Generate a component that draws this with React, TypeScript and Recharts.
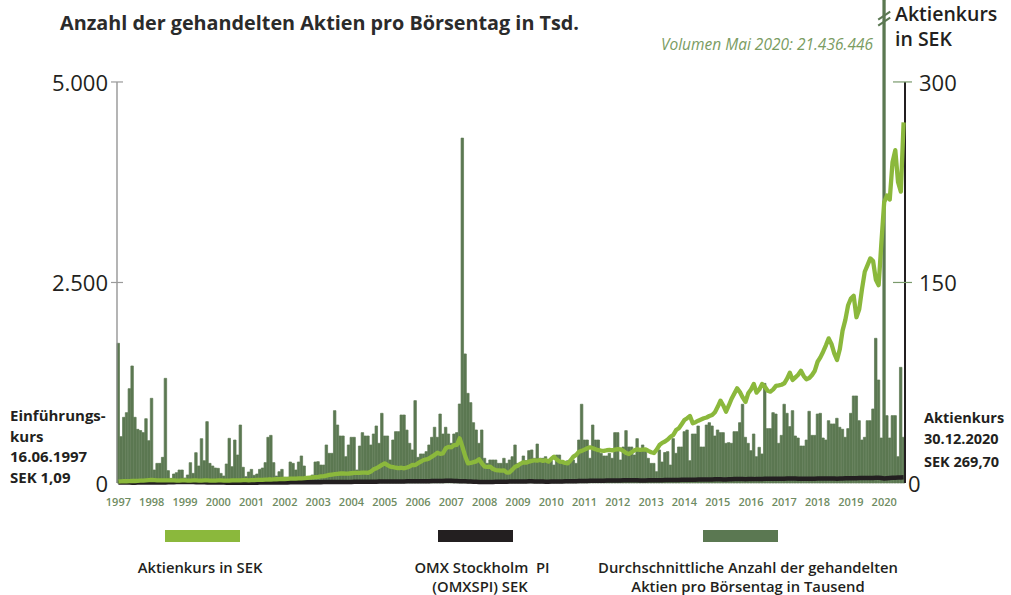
import { ComposedChart, Bar, Line, XAxis, YAxis, ReferenceLine, ReferenceDot } from "recharts";

const FONT = "'Open Sans', sans-serif";
const DARK = "#5b7852";
const LIGHT = "#8bb83c";
const BLACK = "#231f20";
const YEAR_COLOR = "#6f8c62";

// monthly, June 1997 .. Dec 2020
const YEARS = [
  "1997", "1998", "1999", "2000", "2001", "2002", "2003", "2004", "2005", "2006", "2007", "2008",
  "2009", "2010", "2011", "2012", "2013", "2014", "2015", "2016", "2017", "2018", "2019", "2020",
];

// average traded shares per day, thousands
const VOLUME = [
  1742, 578, 819, 877, 1176, 1459, 819, 669, 654, 628, 802, 528,
  1056, 162, 245, 245, 320, 1305, 154, 58, 112, 129, 162, 162,
  62, 100, 254, 120, 378, 212, 553, 278, 765, 245, 212, 187,
  183, 120, 87, 237, 557, 204, 536, 349, 723, 196, 79, 137,
  170, 96, 112, 170, 187, 254, 570, 594, 254, 87, 141, 170,
  71, 71, 262, 245, 162, 262, 337, 212, 79, 60, 100, 262,
  266, 224, 224, 474, 370, 370, 902, 723, 586, 586, 328, 474,
  570, 570, 162, 461, 628, 586, 586, 474, 611, 711, 495, 869,
  586, 586, 287, 536, 640, 640, 848, 848, 660, 495, 412, 1027,
  320, 362, 362, 391, 474, 570, 695, 570, 860, 611, 695, 611,
  495, 611, 628, 985, 4300, 1609, 1118, 1002, 752, 661, 495, 661,
  308, 245, 287, 287, 287, 245, 245, 308, 245, 287, 328, 474,
  245, 245, 337, 278, 403, 412, 308, 486, 308, 308, 328, 287,
  278, 224, 349, 349, 245, 245, 278, 287, 287, 245, 536, 982,
  536, 536, 308, 723, 536, 536, 370, 337, 337, 370, 308, 628,
  628, 287, 449, 653, 449, 449, 349, 553, 412, 474, 412, 308,
  245, 245, 141, 412, 262, 380, 391, 224, 553, 370, 449, 449,
  640, 661, 278, 611, 611, 711, 449, 449, 723, 752, 711, 586,
  661, 628, 628, 495, 503, 495, 640, 640, 752, 982, 570, 495,
  403, 611, 328, 445, 362, 1242, 678, 678, 877, 860, 495, 594,
  982, 869, 703, 902, 586, 561, 461, 461, 536, 894, 594, 594,
  860, 869, 561, 536, 777, 736, 736, 807, 695, 670, 570, 678,
  869, 1085, 1085, 777, 536, 570, 777, 777, 923, 1804, 1284, 561,
  21436, 840, 561, 840, 840, 328, 1442, 570,
];

// share price, SEK
const PRICE = [
  1.1, 1.2, 1.3, 1.3, 1.4, 1.5, 1.5, 1.6, 1.7, 1.8, 2.0, 2.2,
  2.3, 2.2, 2.0, 1.9, 1.9, 2.0, 2.0, 1.9, 1.9, 1.8, 1.8, 1.9,
  1.9, 1.8, 1.8, 1.9, 1.9, 1.8, 1.8, 1.9, 1.9, 1.8, 1.8, 1.8,
  1.9, 1.9, 1.8, 1.8, 1.8, 1.9, 1.9, 2.0, 2.0, 2.1, 2.1, 2.0,
  2.1, 2.2, 2.3, 2.4, 2.4, 2.5, 2.6, 2.6, 2.7, 2.8, 2.9, 3.0,
  3.0, 3.1, 3.2, 3.3, 3.3, 3.4, 3.5, 3.6, 3.8, 4.0, 4.2, 4.4,
  4.6, 4.9, 5.2, 5.6, 6.0, 6.3, 6.6, 6.9, 7.1, 7.2, 7.0, 7.1,
  7.3, 7.5, 7.6, 7.6, 7.7, 7.8, 7.6, 8.5, 10.2, 11.0, 12.3, 13.6,
  14.7, 13.4, 12.2, 11.8, 11.4, 11.2, 11.4, 11.0, 11.6, 12.4, 13.5, 13.4,
  14.8, 16.0, 17.2, 17.6, 18.4, 19.7, 21.0, 22.7, 21.8, 22.2, 26.0, 27.0,
  26.7, 28.4, 28.6, 33.4, 27.0, 20.0, 14.7, 15.0, 15.6, 16.2, 17.7, 14.7,
  12.2, 12.0, 12.2, 10.5, 9.7, 9.5, 9.2, 9.4, 7.7, 8.0, 10.0, 12.2,
  13.0, 14.5, 15.5, 15.2, 16.0, 16.5, 17.0, 16.8, 17.2, 16.5, 17.0, 16.0,
  18.0, 19.7, 17.5, 16.0, 15.8, 15.0, 14.7, 17.0, 19.7, 21.0, 23.4, 24.0,
  25.0, 26.0, 26.7, 26.0, 25.2, 24.5, 24.2, 24.0, 24.5, 24.7, 24.4, 25.0,
  25.4, 25.2, 24.0, 22.5, 21.7, 23.0, 24.5, 25.2, 24.8, 25.0, 25.2, 24.0,
  23.0, 22.4, 25.0, 28.4, 30.0, 31.0, 32.5, 34.6, 36.0, 39.6, 41.0, 44.0,
  47.1, 48.5, 50.1, 44.7, 45.5, 46.6, 47.5, 48.4, 49.0, 50.1, 50.9, 53.0,
  57.0, 61.6, 58.0, 53.3, 58.0, 63.0, 67.0, 70.8, 68.0, 64.0, 60.6, 67.1,
  70.0, 74.1, 67.6, 70.0, 74.1, 72.0, 69.0, 68.3, 70.0, 72.6, 73.0, 73.5,
  74.6, 78.0, 82.5, 77.0, 79.0, 81.0, 84.0, 80.0, 77.6, 78.5, 80.8, 84.0,
  90.7, 94.0, 98.2, 103.0, 108.2, 104.0, 97.0, 92.0, 100.0, 114.0, 122.0, 133.0,
  138.0, 140.0, 124.0, 130.0, 145.0, 158.0, 163.0, 168.0, 166.0, 152.0, 148.0, 180.0,
  210.0, 215.0, 212.0, 240.0, 249.0, 225.0, 218.0, 269.7,
];

// OMX Stockholm PI, rebased to the SEK axis
const OMX = [
  0.3, 0.3, 0.4, 0.3, 0.3, 0.2, 0.2, 0.3, 0.3, 0.4, 0.4, 0.4,
  0.4, 0.3, 0.3, 0.3, 0.4, 0.4, 0.5, 0.5, 0.6, 0.7, 0.7, 0.8,
  0.8, 0.7, 0.7, 0.7, 0.6, 0.6, 0.5, 0.5, 0.4, 0.4, 0.4, 0.4,
  0.3, 0.3, 0.3, 0.2, 0.2, 0.2, 0.1, 0.1, 0.1, 0.1, 0.2, 0.2,
  0.2, 0.2, 0.2, 0.3, 0.3, 0.3, 0.3, 0.3, 0.4, 0.4, 0.4, 0.4,
  0.4, 0.4, 0.5, 0.5, 0.5, 0.5, 0.5, 0.5, 0.6, 0.6, 0.6, 0.6,
  0.6, 0.6, 0.7, 0.7, 0.7, 0.7, 0.7, 0.8, 0.8, 0.8, 0.8, 0.8,
  0.8, 0.9, 0.9, 0.9, 0.9, 0.9, 1.0, 1.0, 1.0, 1.0, 1.1, 1.1,
  1.1, 1.1, 1.1, 1.2, 1.2, 1.2, 1.2, 1.2, 1.3, 1.3, 1.3, 1.3,
  1.3, 1.4, 1.4, 1.4, 1.4, 1.5, 1.5, 1.5, 1.5, 1.5, 1.6, 1.6,
  1.6, 1.5, 1.5, 1.4, 1.4, 1.3, 1.2, 1.1, 1.0, 0.9, 0.8, 0.7,
  0.7, 0.7, 0.8, 0.8, 0.9, 0.9, 1.0, 1.0, 1.0, 1.1, 1.1, 1.1,
  1.2, 1.2, 1.2, 1.2, 1.3, 1.3, 1.2, 1.1, 1.1, 1.1, 1.0, 1.0,
  1.1, 1.1, 1.2, 1.2, 1.2, 1.3, 1.3, 1.3, 1.4, 1.4, 1.5, 1.5,
  1.5, 1.5, 1.6, 1.6, 1.6, 1.7, 1.7, 1.7, 1.8, 1.8, 1.8, 1.9,
  1.9, 1.9, 2.0, 2.0, 2.0, 2.1, 2.1, 2.0, 1.9, 1.9, 1.9, 2.0,
  2.0, 2.0, 2.1, 2.1, 2.1, 2.2, 2.2, 2.2, 2.3, 2.3, 2.3, 2.4,
  2.4, 2.4, 2.5, 2.5, 2.5, 2.6, 2.6, 2.6, 2.7, 2.7, 2.7, 2.8,
  2.8, 2.8, 2.7, 2.7, 2.8, 2.8, 2.9, 2.9, 2.9, 2.9, 2.8, 2.9,
  2.9, 2.9, 3.0, 3.0, 3.0, 3.1, 3.1, 3.1, 3.1, 3.2, 3.2, 3.2,
  3.2, 3.3, 3.3, 3.3, 3.3, 3.2, 3.2, 3.2, 3.1, 3.1, 3.2, 3.2,
  3.3, 3.3, 3.3, 3.4, 3.4, 3.4, 3.3, 3.2, 3.3, 3.4, 3.5, 3.5,
  3.6, 3.6, 3.6, 3.7, 3.7, 3.7, 3.8, 3.8, 3.8, 3.9, 3.9, 3.8,
  3.4, 3.6, 3.8, 3.9, 4.0, 4.1, 4.2, 4.3,
];

const VOL_TICKS = [0, 2500, 5000];
const PRICE_TICKS = [0, 150, 300];
// plot runs up to the page top, above the 5.000 / 300 gridline
const VOL_TOP = 6022;
const PRICE_TOP = 361.3;
const LAST = VOLUME.length - 1;

const rows = VOLUME.map((v, i) => ({
  i,
  vol: Math.min(v, VOL_TOP),
  price: PRICE[i],
  omx: OMX[i],
}));

const fmtDe = (v: number) => v.toLocaleString("de-DE");

function LeftTick({ x, y, payload }: any) {
  return (
    <g>
      {payload.value !== 0 && <line x1={x - 6} x2={x + 6} y1={y} y2={y} stroke="#9a9a9a" strokeWidth={1.2} />}
      <text x={x - 9} y={y} textAnchor="end" dominantBaseline="central" fontSize={22} fontWeight={500} fill={BLACK} fontFamily={FONT}>
        {fmtDe(payload.value)}
      </text>
    </g>
  );
}

function RightTick({ x, y, payload }: any) {
  const zero = payload.value === 0;
  return (
    <g>
      {!zero && <line x1={x - 12} x2={x + 7} y1={y} y2={y} stroke="#7a9a6c" strokeWidth={1.2} />}
      <text x={zero ? x + 3 : x + 14} y={y} dominantBaseline="central" fontSize={22} fontWeight={500} fill={BLACK} fontFamily={FONT}>
        {payload.value}
      </text>
    </g>
  );
}

function BreakMark({ cx, cy }: any) {
  return (
    <g stroke={DARK} strokeWidth={2}>
      <line x1={cx - 6} y1={cy + 1} x2={cx + 6} y2={cy - 7} />
      <line x1={cx - 6} y1={cy + 7} x2={cx + 6} y2={cy - 1} />
    </g>
  );
}

const label = (x: number, y: number, text: string, extra: any = {}) => (
  <text x={x} y={y} dominantBaseline="central" fontFamily={FONT} fill={BLACK} style={{ whiteSpace: "pre" }} {...extra}>
    {text}
  </text>
);

const legendText = { fontSize: 14.8, fontWeight: 600, textAnchor: "middle" };
const noteText = { fontSize: 15, fontWeight: 700 };

export default function App() {
  return (
    <div style={{ position: "absolute", left: 0, top: 0, width: 1011, height: 595, background: "#fff" }}>
      <ComposedChart
        width={1011}
        height={595}
        data={rows}
        margin={{ top: 0, right: 46, bottom: 82, left: 57 }}
        barCategoryGap={0}
        barGap={0}
      >
        <XAxis
          dataKey="i"
          type="number"
          domain={[-0.5, LAST + 0.5]}
          ticks={YEARS.map((_, k) => k * 12)}
          interval={0}
          tickFormatter={(v: number) => YEARS[Math.round(v / 12)]}
          tick={{ fontSize: 11, fill: YEAR_COLOR, fontWeight: 600, fontFamily: FONT }}
          tickLine={false}
          axisLine={false}
          tickMargin={9}
          height={30}
        />
        <YAxis
          yAxisId="left"
          domain={[0, VOL_TOP]}
          ticks={VOL_TICKS}
          width={60}
          axisLine={false}
          tickLine={false}
          tickSize={0}
          tickMargin={0}
          tick={<LeftTick />}
        />
        <YAxis
          yAxisId="right"
          orientation="right"
          domain={[0, PRICE_TOP]}
          ticks={PRICE_TICKS}
          width={60}
          axisLine={false}
          tickLine={false}
          tickSize={0}
          tickMargin={0}
          tick={<RightTick />}
        />
        <Bar yAxisId="left" dataKey="vol" fill={DARK} stroke={DARK} strokeWidth={0.7} barSize={3.3} isAnimationActive={false} />
        <ReferenceLine
          yAxisId="left"
          segment={[{ x: -0.5, y: 0 }, { x: -0.5, y: 5000 }]}
          stroke="#8d8d8d"
          strokeWidth={1.3}
          ifOverflow="visible"
        />
        <ReferenceLine
          yAxisId="right"
          segment={[{ x: LAST + 0.5, y: 0 }, { x: LAST + 0.5, y: 300 }]}
          stroke={BLACK}
          strokeWidth={2}
          ifOverflow="visible"
        />
        <Line yAxisId="right" dataKey="omx" stroke={BLACK} strokeWidth={4.5} dot={false} isAnimationActive={false} />
        <Line yAxisId="right" dataKey="price" stroke={LIGHT} strokeWidth={4.3} dot={false} strokeLinejoin="round" isAnimationActive={false} />
        <ReferenceDot yAxisId="left" x={276} y={5790} r={0} shape={<BreakMark />} ifOverflow="visible" />
      </ComposedChart>

      <svg width={1011} height={595} style={{ position: "absolute", left: 0, top: 0, pointerEvents: "none" }}>
        {label(60, 22, "Anzahl der gehandelten Aktien pro Börsentag in Tsd.", { fontSize: 19.8, fontWeight: 700, fill: "#2b2b2b" })}
        {label(873, 44, "Volumen Mai 2020: 21.436.446", { fontSize: 15.5, fontStyle: "italic", fill: "#7a9c62", textAnchor: "end" })}
        {label(895, 13, "Aktienkurs", { fontSize: 19.5, fontWeight: 600 })}
        {label(895, 38, "in SEK", { fontSize: 19.5, fontWeight: 600 })}

        {label(10, 415, "Einführungs-", noteText)}
        {label(10, 436, "kurs", noteText)}
        {label(10, 456, "16.06.1997", noteText)}
        {label(10, 477, "SEK 1,09", noteText)}

        {label(924, 417, "Aktienkurs", { fontSize: 14.5, fontWeight: 700 })}
        {label(924, 438, "30.12.2020", { fontSize: 14.5, fontWeight: 700 })}
        {label(924, 461, "SEK 269,70", { fontSize: 14.5, fontWeight: 700 })}

        <rect x={165} y={530} width={75} height={12} fill={LIGHT} />
        <rect x={438} y={530} width={75} height={12} fill={BLACK} />
        <rect x={703} y={530} width={75} height={12} fill={DARK} />
        {label(200, 567, "Aktienkurs in SEK", legendText)}
        {label(482, 567, "OMX Stockholm  PI", legendText)}
        {label(480, 586, "(OMXSPI) SEK", legendText)}
        {label(748, 567, "Durchschnittliche Anzahl der gehandelten", legendText)}
        {label(748, 586, "Aktien pro Börsentag in Tausend", legendText)}
      </svg>
    </div>
  );
}
